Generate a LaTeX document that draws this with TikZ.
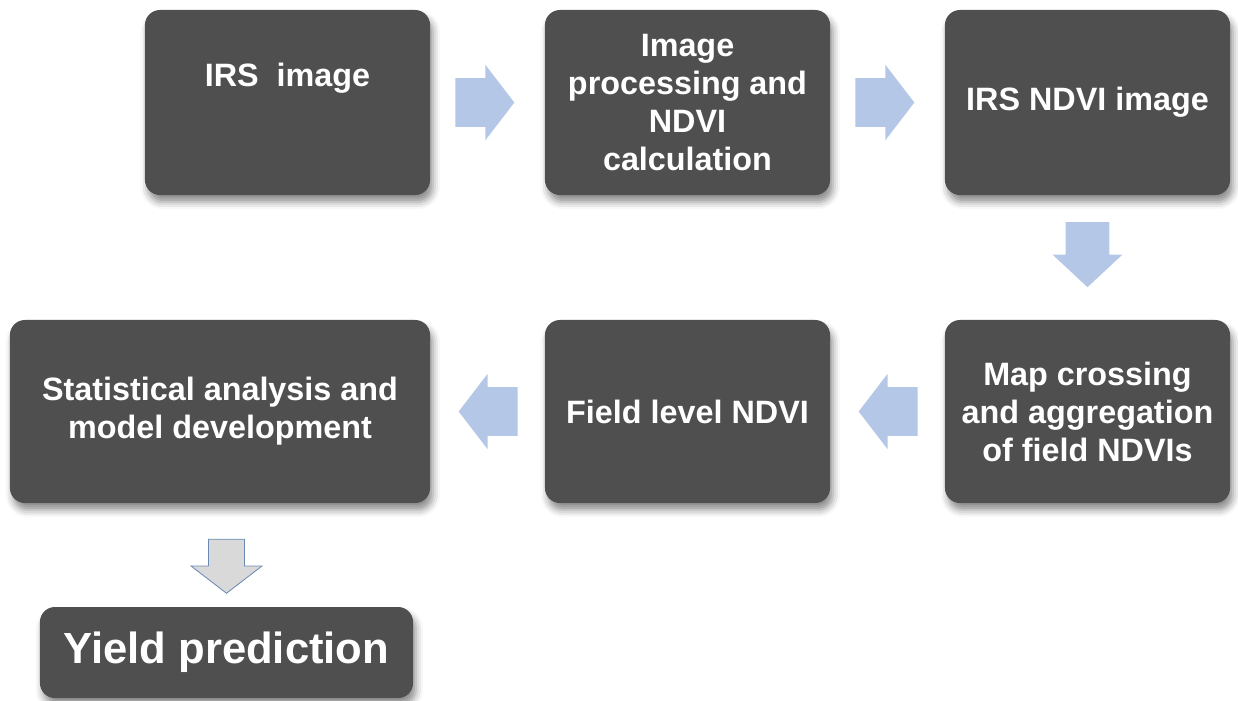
\documentclass[tikz,border=0pt]{standalone}
\usepackage{fontspec}
\setmainfont{Liberation Sans}
\usetikzlibrary{calc,shapes.arrows,shadows.blur}
\newcommand{\Px}{0.025cm}
\definecolor{boxgray}{HTML}{4F4F4F}
\definecolor{arrowblue}{HTML}{B4C7E7}
\definecolor{arrowgray}{HTML}{D9D9D9}
\definecolor{arrowedge}{HTML}{6A8CB4}
\tikzset{Box/.style={
    inner sep=0pt,
    rounded corners=0.375cm,
    fill=boxgray,
    text=white,
    align=center,
    font=\bfseries\fontsize{23}{27}\selectfont,
    blur shadow={shadow xshift=2pt, shadow yshift=-5pt, shadow blur radius=5pt, shadow opacity=45},
    }
}

\begin{document}
\begin{tikzpicture}[x=\Px, y=-\Px,
    big/.style={Box, minimum width=7.125cm, minimum height=4.625cm},
    flow/.style={single arrow, draw=none, fill=arrowblue,
        inner xsep=0pt, inner ysep=0.6cm,
        minimum width=1.875cm, minimum height=1.475cm,
        single arrow head extend=0.3375cm, single arrow tip angle=105},
]
\useasboundingbox (0,0) rectangle (1238,700);
% top row
\node [big, text depth=1.4cm] (irs) at (287.5,102.5) {IRS\ \ image};
\node [big] (proc) at (687.5,102.5) {Image\\processing and\\NDVI\\calculation};
\node [big] (ndvi) at (1087.5,102.5) {IRS NDVI image};
% second row
\node [big, minimum height=4.575cm] (mapx) at (1087.5,411.5) {Map crossing\\and aggregation\\of field NDVIs};
\node [big, minimum height=4.575cm] (field) at (687.5,411.5) {Field level NDVI};
\node [Box, minimum width=10.5cm, minimum height=4.575cm] (stat) at (220,411.5) {Statistical analysis and\\model development};
% result
\node [Box, minimum width=9.325cm, minimum height=2.275cm,
    font=\bfseries\fontsize{31}{36}\selectfont] (yield) at (226.5,652.5) {Yield prediction};

\node [flow] (a1) at ($(irs.east)!0.5!(proc.west)+(-12,0)$) {};
\node [flow] (a2) at ($(proc.east)!0.5!(ndvi.west)+(-12,0)$) {};
\node [flow, rotate=-90, inner ysep=0.5375cm, minimum width=1.725cm, minimum height=1.625cm,
    single arrow head extend=0.325cm, single arrow tip angle=94] (a3) at ($(ndvi.south)!0.5!(mapx.north)+(0,-13)$) {};
\node [flow, rotate=180] (a4) at ($(mapx.west)!0.5!(field.east)+(10,0)$) {};
\node [flow, rotate=180] (a5) at ($(field.west)!0.5!(stat.east)+(10,0)$) {};
\node [flow, rotate=-90, fill=arrowgray, draw=arrowedge, line width=0.6pt, inner ysep=0.4375cm,
    minimum width=1.75cm, minimum height=1.35cm, single arrow head extend=0.4375cm]
    (a6) at ($(stat.south -| yield.north)!0.6!(yield.north)+(0,-6)$) {};
\end{tikzpicture}
\end{document}
